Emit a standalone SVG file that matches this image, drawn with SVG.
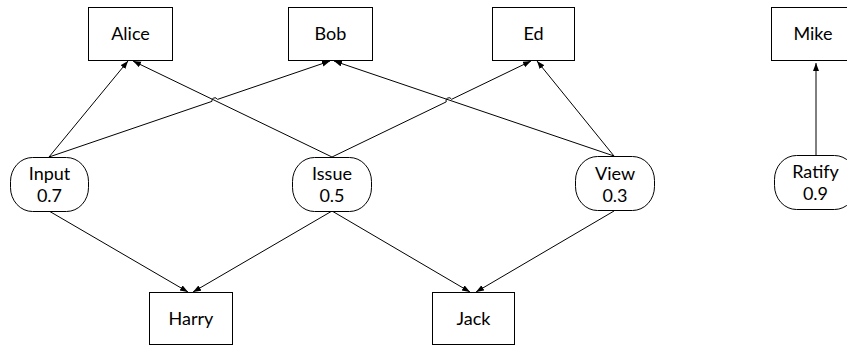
<svg xmlns="http://www.w3.org/2000/svg" width="847" height="347" viewBox="0 0 847 347">
<defs>
<marker id="arr" markerWidth="9" markerHeight="7" refX="8" refY="3" orient="auto" markerUnits="userSpaceOnUse">
<path d="M0,0 L8,3 L0,6 z" fill="#000"/>
</marker>
<style>
.box{fill:#fff;stroke:#000;stroke-width:1}
.pill{fill:#fff;stroke:#000;stroke-width:1}
.t{font-family:Lato,"Open Sans","Liberation Sans",sans-serif;font-size:18px;fill:#000;text-anchor:middle}
.c{fill:none;stroke:#000;stroke-width:1;marker-end:url(#arr)}
</style>
</defs>
<rect width="847" height="347" fill="#fff"/>
<g id="connectors">
<path class="c" d="M49,157 L128,61"/>
<path class="c" d="M49,157 L211.9,101.4 A3,3 0 0 1 217.5,99.4 L330,61"/>
<path class="c" d="M332,157 L133,61"/>
<path class="c" d="M332,157 L446.2,101.9 A3,3 0 0 1 451.6,99.3 L531,61"/>
<path class="c" d="M614,156 L334,61"/>
<path class="c" d="M614,156 L537,61"/>
<path class="c" d="M816,155 L816,63"/>
<path class="c" d="M49,211 L188,292"/>
<path class="c" d="M332,211 L193,292"/>
<path class="c" d="M332,211 L470,292"/>
<path class="c" d="M614,211 L476,292"/>
</g>
<g id="alice"><rect class="box" x="88.5" y="7.5" width="84" height="53"/><text class="t" x="130.5" y="40">Alice</text></g>
<g id="bob"><rect class="box" x="288.5" y="7.5" width="84" height="53"/><text class="t" x="330.5" y="40">Bob</text></g>
<g id="ed"><rect class="box" x="492.5" y="7.5" width="82" height="53"/><text class="t" x="533.5" y="40">Ed</text></g>
<g id="mike"><rect class="box" x="771.5" y="7.5" width="84" height="53"/><text class="t" x="813" y="40">Mike</text></g>
<g id="input"><rect class="pill" x="10.5" y="157.5" width="78" height="54" rx="22" ry="24"/><text class="t" x="49.5" y="180">Input</text><text class="t" x="49.5" y="202">0.7</text></g>
<g id="issue"><rect class="pill" x="292.5" y="157.5" width="79" height="54" rx="22" ry="24"/><text class="t" x="332" y="180">Issue</text><text class="t" x="332" y="202">0.5</text></g>
<g id="view"><rect class="pill" x="575.5" y="156.5" width="79" height="54" rx="22" ry="24"/><text class="t" x="615" y="180">View</text><text class="t" x="615" y="202">0.3</text></g>
<g id="ratify"><rect class="pill" x="774.5" y="155.5" width="82" height="54" rx="22" ry="24"/><text class="t" x="815.5" y="178">Ratify</text><text class="t" x="815.5" y="200">0.9</text></g>
<g id="harry"><rect class="box" x="149.5" y="292.5" width="83" height="52"/><text class="t" x="191" y="325">Harry</text></g>
<g id="jack"><rect class="box" x="432.5" y="292.5" width="82" height="52"/><text class="t" x="473.5" y="325">Jack</text></g>
</svg>
